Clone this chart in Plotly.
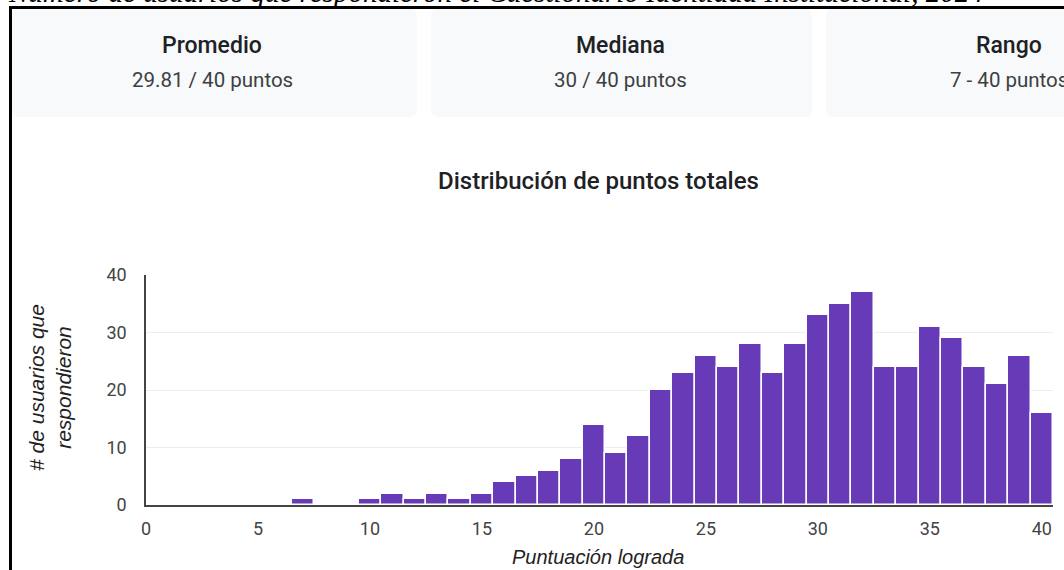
import plotly.graph_objects as go

# ---- data ----
scores = list(range(0, 41))
counts = [0, 0, 0, 0, 0, 0, 0, 1, 0, 0,
          1, 2, 1, 2, 1, 2, 4, 5, 6, 8,
          14, 9, 12, 20, 23, 26, 24, 28, 23, 28,
          33, 35, 37, 24, 24, 31, 29, 24, 21, 26,
          16]
x_ticks = [0, 5, 10, 15, 20, 25, 30, 35, 40]
y_ticks = [0, 10, 20, 30, 40]
card_titles = ["Promedio", "Mediana", "Rango"]
card_values = ["29.81 / 40 puntos", "30 / 40 puntos", "7 - 40 puntos"]
caption = "Número de usuarios que respondieron el Cuestionario Identidad Institucional, 2024"
chart_title = "Distribución de puntos totales"
x_title = "Puntuación lograda"
y_title = "# de usuarios que<br>respondieron"

# ---- layout geometry (pixels) ----
W, H = 1064, 570
ML, MR, MT, MB = 146, 11, 275, 65
PW = W - ML - MR
PH = H - MT - MB


def px(x):
    return (x - ML) / PW


def py(y):
    return (H - MB - y) / PH


def rounded_rect(x0, y0, x1, y1, r):
    rx, ry = r / PW, r / PH
    X0, X1 = px(x0), px(x1)
    Y0, Y1 = py(y0), py(y1)  # Y0 top (larger), Y1 bottom
    return (f"M {X0+rx},{Y0} L {X1-rx},{Y0} Q {X1},{Y0} {X1},{Y0-ry} "
            f"L {X1},{Y1+ry} Q {X1},{Y1} {X1-rx},{Y1} "
            f"L {X0+rx},{Y1} Q {X0},{Y1} {X0},{Y1+ry} "
            f"L {X0},{Y0-ry} Q {X0},{Y0} {X0+rx},{Y0} Z")


fig = go.Figure()
fig.add_trace(go.Bar(
    x=scores, y=counts,
    marker=dict(color="#673ab7", line=dict(color="white", width=1.5)),
    hoverinfo="x+y",
))

shapes = []
annotations = []

cards = [(12, 9, 417, 117), (431, 9, 812, 117), (826, 9, 1230, 117)]
centers = [212, 620, 1009]
for (x0, y0, x1, y1), cx, t, v in zip(cards, centers, card_titles, card_values):
    shapes.append(dict(type="path", xref="paper", yref="paper",
                       path=rounded_rect(x0, y0, x1, y1, 7),
                       fillcolor="#f8f9fa", line=dict(width=0), layer="below"))
    annotations.append(dict(x=px(cx), y=py(45), xref="paper", yref="paper",
                            text=t, showarrow=False, xanchor="center", yanchor="middle",
                            font=dict(family="Roboto", size=23, color="#202124", weight=500)))
    annotations.append(dict(x=px(cx), y=py(80), xref="paper", yref="paper",
                            text=v, showarrow=False, xanchor="center", yanchor="middle",
                            font=dict(family="Roboto", size=20.5, color="#3c4043")))

# frame lines
shapes.append(dict(type="line", xref="paper", yref="paper",
                   x0=px(10.5), x1=px(10.5), y0=py(6), y1=py(580),
                   line=dict(color="black", width=3)))
shapes.append(dict(type="line", xref="paper", yref="paper",
                   x0=px(9), x1=px(1080), y0=py(7.5), y1=py(7.5),
                   line=dict(color="black", width=3)))

# caption (partly cut off at top)
annotations.append(dict(x=px(6), y=py(-8.5), xref="paper", yref="paper",
                        text=caption, showarrow=False, xanchor="left", yanchor="middle",
                        font=dict(family="Liberation Serif", size=29, color="black", style="italic")))

# chart title
annotations.append(dict(x=px(598), y=py(181), xref="paper", yref="paper",
                        text=chart_title, showarrow=False, xanchor="center", yanchor="middle",
                        font=dict(family="Roboto", size=24, color="#202124", weight=500)))
# x title
annotations.append(dict(x=px(598), y=py(557), xref="paper", yref="paper",
                        text=x_title, showarrow=False, xanchor="center", yanchor="middle",
                        font=dict(family="Liberation Sans", size=20, color="#222222", style="italic")))
# y title
annotations.append(dict(x=px(50), y=py(388), xref="paper", yref="paper",
                        text=y_title, showarrow=False, xanchor="center", yanchor="middle",
                        textangle=-90,
                        font=dict(family="Liberation Sans", size=21, color="#222222", style="italic")))

fig.update_layout(
    width=W, height=H,
    margin=dict(l=ML, r=MR, t=MT, b=MB, pad=0),
    paper_bgcolor="white", plot_bgcolor="white",
    bargap=0,
    showlegend=False,
    shapes=shapes,
    annotations=annotations,
    xaxis=dict(range=[0, 40.5], tickvals=x_ticks, ticktext=[str(v) for v in x_ticks],
               showgrid=False, zeroline=False, showline=True, linecolor="#444444", linewidth=2,
               ticks="", ticklabelstandoff=6,
               tickfont=dict(family="Roboto", size=18, color="#444444")),
    yaxis=dict(range=[0, 40], tickvals=y_ticks, ticktext=[str(v) for v in y_ticks],
               showgrid=True, gridcolor="#ececec", gridwidth=1, zeroline=False,
               showline=True, linecolor="#444444", linewidth=1.5,
               ticks="", ticklabelstandoff=14,
               tickfont=dict(family="Roboto", size=18, color="#444444")),
)

fig.write_html("out.html", config={"displayModeBar": False},
               post_script="document.body.style.margin='0px';")
